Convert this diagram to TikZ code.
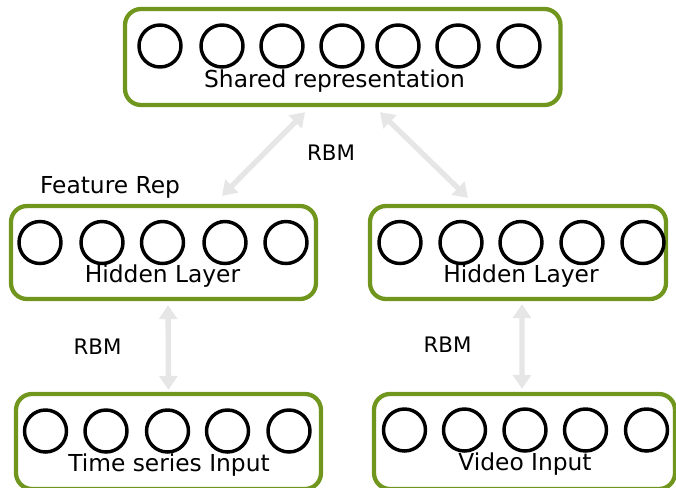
\documentclass[tikz,border=0pt]{standalone}
\usepackage{fontspec}
\setmainfont{DejaVu Sans}
\usetikzlibrary{arrows.meta}
\definecolor{boxgreen}{RGB}{112,150,30}
\definecolor{rbmgray}{RGB}{230,230,230}
\tikzset{
  layer/.style={shape=rectangle,draw=boxgreen,line width=3.2pt,rounded corners=12pt,inner sep=0pt,fill=white},
  unit/.style={shape=circle,draw=black,line width=2.6pt,minimum size=31.5pt,inner sep=0pt},
  lbl/.style={anchor=base,font=\fontsize{17.5}{20}\selectfont,inner sep=0pt},
  rbmlbl/.style={anchor=base,font=\fontsize{16}{19}\selectfont,inner sep=0pt},
  rbm/.style={draw=rbmgray,line width=4pt,{Triangle[width=13.5pt,length=10.5pt]}-{Triangle[width=13.5pt,length=10.5pt]}}
}
\begin{document}
\begin{tikzpicture}[x=0.75pt,y=-0.75pt]
    \useasboundingbox (0,0) rectangle (676,487);

    % layers
    \node[layer,minimum width=326.6pt,minimum height=72pt] (S) at (342.75,57) {};
    \node[layer,minimum width=228.75pt,minimum height=69.75pt] (HL) at (163.5,252.5) {};
    \node[layer,minimum width=222pt,minimum height=69.75pt] (HR) at (518,252.5) {};
    \node[layer,minimum width=228.75pt,minimum height=71.25pt] (IL) at (168.5,441.5) {};
    \node[layer,minimum width=225.75pt,minimum height=71.25pt] (IR) at (524.5,441.5) {};

    % units
    \foreach \x [count=\i] in {160,222,282,342,398,458,519}
        \node[unit] (s\i) at (\x,46) {};
    \foreach \x [count=\i] in {40,102,162.5,225,286}
        \node[unit] (hl\i) at (\x,242.5) {};
    \foreach \x [count=\i] in {400,461,521,582,643}
        \node[unit] (hr\i) at (\x,242.5) {};
    \foreach \x [count=\i] in {45.5,106,167.5,227.5,289}
        \node[unit] (il\i) at (\x,431) {};
    \foreach \x [count=\i] in {404.5,464.5,525,585.5,646.5}
        \node[unit] (ir\i) at (\x,430) {};

    % texts
    \node[lbl] (St) at (334.5,87) {Shared representation};
    \node[lbl] (HLt) at (162.5,282) {Hidden Layer};
    \node[lbl] (HRt) at (521,282) {Hidden Layer};
    \node[lbl] (ILt) at (169,471) {Time series Input};
    \node[lbl] (IRt) at (525,470) {Video Input};
    \node[lbl] (F) at (110,193) {Feature Rep};
    \node[rbmlbl] (R1) at (331,160) {RBM};
    \node[rbmlbl] (R2) at (97.5,354) {RBM};
    \node[rbmlbl] (R3) at (447.5,352) {RBM};

    % RBM connections
    \path[rbm] ([xshift=-28.3pt,yshift=-3.75pt]S.south) -- ([xshift=43.9pt,yshift=6pt]HL.north);
    \path[rbm] ([xshift=27.9pt,yshift=-3.75pt]S.south) -- ([xshift=-37.5pt,yshift=4.5pt]HR.north);
    \path[rbm] ([xshift=3.4pt,yshift=-3pt]HL.south) -- ([xshift=0pt,yshift=1.5pt]IL.north);
    \path[rbm] ([xshift=3pt,yshift=-2.25pt]HR.south) -- ([xshift=-1.9pt,yshift=2.25pt]IR.north);
\end{tikzpicture}
\end{document}
